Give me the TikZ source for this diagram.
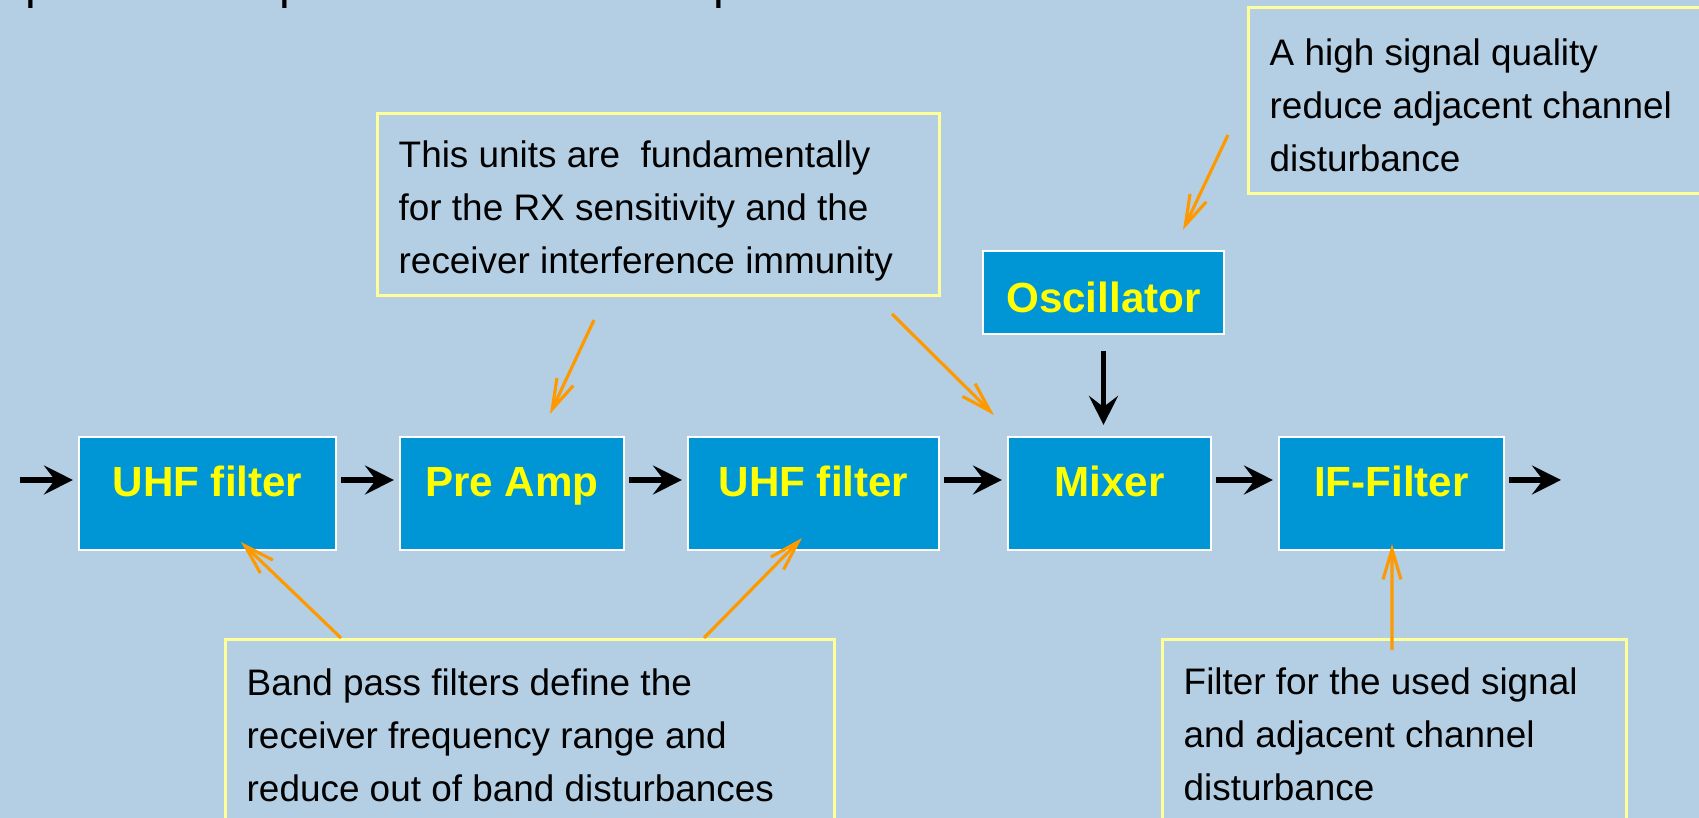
\documentclass[tikz,border=0pt]{standalone}
\usepackage{fontspec}
\setmainfont{Liberation Sans}
\usetikzlibrary{arrows.meta}
\definecolor{slidebg}{HTML}{B4CFE4}
\definecolor{blockfill}{HTML}{0095D5}
\definecolor{labelyellow}{HTML}{FFFF00}
\definecolor{noteborder}{HTML}{FFFF99}
\definecolor{hintorange}{HTML}{FF9900}
\tikzset{
  block/.style={rectangle, fill=blockfill, draw=white, line width=0.6pt, inner sep=0pt, minimum height=1.13cm, text=labelyellow, font=\fontsize{12}{14}\selectfont\bfseries, text height=0.32cm, text depth=0.26cm},
  notebox/.style={rectangle, draw=noteborder, line width=0.85pt, inner sep=0pt, anchor=north west},
  notetext/.style={anchor=north west, inner sep=0pt, align=left, font=\fontsize{10.5}{15.1}\selectfont},
  heading/.style={anchor=base west, inner sep=0pt, font=\fontsize{13.7}{16}\selectfont},
  flow/.style={-{Stealth[length=2.9mm, width=2.9mm, inset=1.1mm]}, line width=1.7pt, draw=black, shorten <=0.4mm, shorten >=0.5mm},
  hint/.style={-{Straight Barb[length=3mm, width=1.8mm]}, line width=0.9pt, draw=hintorange}
}
\begin{document}
\begin{tikzpicture}

\useasboundingbox (0,0) rectangle (16.99,-8.18);
\fill[slidebg] (0,0) rectangle (16.99,-8.18);

% Slide text cut off by the top edge.
\node[heading] (heading) at (0.25,0.01) {portant components in the RX input};

% Receiver chain.
\node[block, minimum width=2.57cm] (uhfA) at (2.075,-4.935) {UHF filter};
\node[block, minimum width=2.24cm] (preamp) at (5.12,-4.935) {Pre Amp};
\node[block, minimum width=2.51cm] (uhfB) at (8.135,-4.935) {UHF filter};
\node[block, minimum width=2.03cm] (mixer) at (11.095,-4.935) {Mixer};
\node[block, minimum width=2.25cm] (iffilter) at (13.915,-4.935) {IF-Filter};
\node[block, minimum width=2.41cm, minimum height=0.83cm, text height=0.42cm, text depth=0.02cm] (osc) at (11.035,-2.925) {Oscillator};

% Notes.
\node[notebox, minimum width=5.62cm, minimum height=1.82cm] (noteRX) at (3.76,-1.12) {};
\node[notetext] (noteRXtext) at ([shift={(0.22,-0.28)}]noteRX.north west)
  {This units are\ \ fundamentally\\for the RX sensitivity and the\\receiver interference immunity};

\node[notebox, minimum width=5.0cm, minimum height=1.86cm] (noteOsc) at (12.47,-0.06) {};
\node[notetext] (noteOsctext) at ([shift={(0.22,-0.32)}]noteOsc.north west)
  {A high signal quality\\reduce adjacent channel\\disturbance};

\node[notebox, minimum width=6.09cm, minimum height=2.0cm] (noteBPF) at (2.24,-6.38) {};
\node[notetext] (noteBPFtext) at ([shift={(0.22,-0.30)}]noteBPF.north west)
  {Band pass filters define the\\receiver frequency range and\\reduce out of band disturbances};

\node[notebox, minimum width=4.64cm, minimum height=2.0cm] (noteIF) at (11.61,-6.38) {};
\node[notetext] (noteIFtext) at ([shift={(0.22,-0.29)}]noteIF.north west)
  {Filter for the used signal\\and adjacent channel\\disturbance};

% Main flows.
\coordinate (row) at (0,-4.80);
\coordinate (rxin) at (0.16,-4.80);
\coordinate (ifout) at (15.66,-4.80);
\draw[flow] (rxin) -- (uhfA.west |- row);
\draw[flow] (uhfA.east |- row) -- (preamp.west |- row);
\draw[flow] (preamp.east |- row) -- (uhfB.west |- row);
\draw[flow] (uhfB.east |- row) -- (mixer.west |- row);
\draw[flow] (mixer.east |- row) -- (iffilter.west |- row);
\draw[flow] (iffilter.east |- row) -- (ifout);
\draw[flow, shorten <=1.6mm, shorten >=1.1mm] (osc.south) -- (osc.south |- mixer.north);

% Pointers from the notes.
\coordinate (rxfrom) at (5.94,-3.20);
\coordinate (rxtoamp) at (5.50,-4.14);
\coordinate (mixfrom) at (8.92,-3.14);
\coordinate (rxtomix) at (9.94,-4.15);
\coordinate (oscfrom) at (12.28,-1.35);
\coordinate (osctip) at (11.83,-2.30);
\coordinate (bpftoA) at (2.41,-5.42);
\coordinate (bpftoB) at (8.02,-5.38);
\coordinate (iftip) at (13.92,-5.44);
\draw[hint] (rxfrom) -- (rxtoamp);
\draw[hint] (mixfrom) -- (rxtomix);
\draw[hint] (oscfrom) -- (osctip);
\draw[hint] ([xshift=1.17cm]noteBPF.north west) -- (bpftoA);
\draw[hint] ([xshift=4.80cm]noteBPF.north west) -- (bpftoB);
\draw[hint] ([xshift=2.31cm,yshift=-0.12cm]noteIF.north west) -- (iftip);

\end{tikzpicture}
\end{document}
